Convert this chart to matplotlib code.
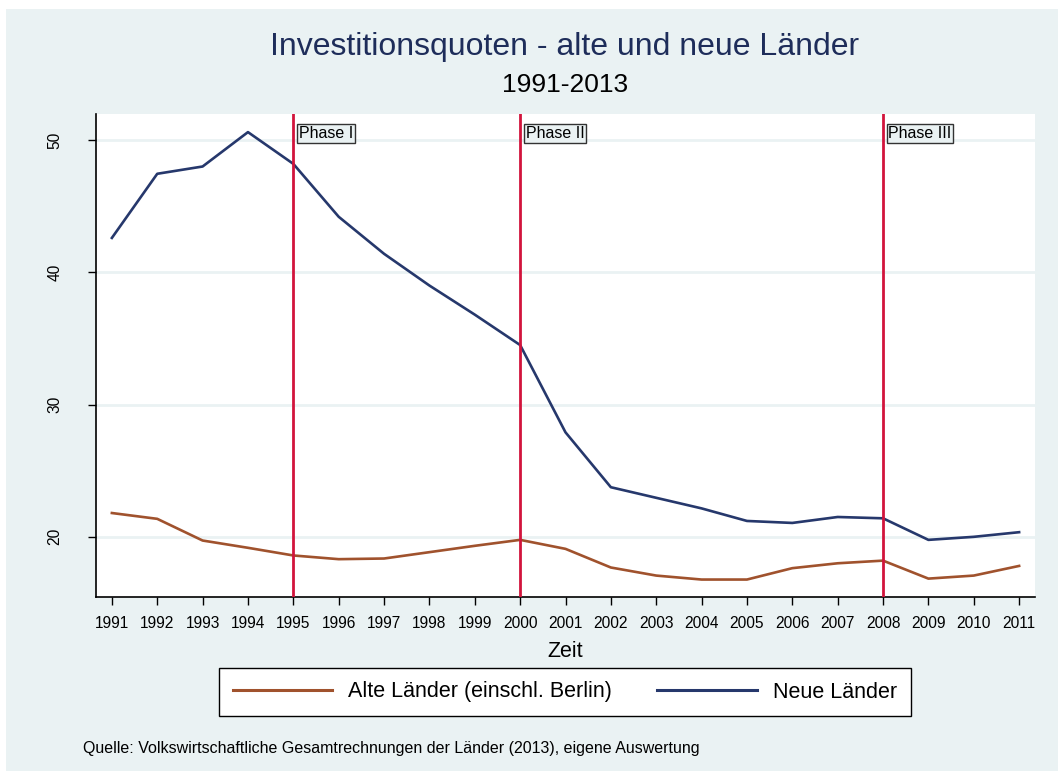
import matplotlib.pyplot as plt
from matplotlib.patches import Rectangle

plt.rcParams['font.family'] = ['Liberation Sans', 'DejaVu Sans']

# data
years = list(range(1991, 2012))
alte = [21.8, 21.36, 19.72, 19.17, 18.59, 18.31, 18.36, 18.84, 19.32, 19.77,
        19.09, 17.68, 17.07, 16.77, 16.77, 17.63, 18.0, 18.2, 16.84, 17.07, 17.8]
neue = [42.6, 47.45, 48.0, 50.6, 48.2, 44.2, 41.4, 39.0, 36.8, 34.5,
        27.9, 23.75, 22.95, 22.15, 21.2, 21.05, 21.5, 21.4, 19.77, 20.0, 20.35]
phase_years = [1995, 2000, 2008]
phase_labels = ['Phase I', 'Phase II', 'Phase III']
y_ticks = [20, 30, 40, 50]

BG = '#eaf2f3'
SIENNA = '#a0522d'
NAVY = '#26386c'
RED = '#d2143c'

fig = plt.figure(figsize=(10.58, 7.71), dpi=100)
fig.patch.set_facecolor('white')
fig.patches.append(Rectangle((6 / 1058, 0), 1, 1 - 9 / 771, transform=fig.transFigure,
                             facecolor=BG, edgecolor='none', zorder=-10))

ax = fig.add_axes([96 / 1058, 1 - 597 / 771, (1035 - 96) / 1058, (597 - 114) / 771])
ax.set_facecolor('white')

ax.plot(years, alte, color=SIENNA, lw=1.9, label='Alte Länder (einschl. Berlin)', zorder=3)
ax.plot(years, neue, color=NAVY, lw=1.9, label='Neue Länder', zorder=3)

for yr, lab in zip(phase_years, phase_labels):
    ax.axvline(yr, color=RED, lw=2.0, zorder=4)
    ax.text(yr + 0.12, 50.5, lab, ha='left', va='center', fontsize=11.5, color='black',
            bbox=dict(boxstyle='square,pad=0.1', facecolor=BG, edgecolor='#333333', lw=1),
            zorder=5)

ax.set_xlim(1990.65, 2011.35)
ax.set_ylim(15.45, 51.97)
ax.set_xticks(years)
ax.set_xticklabels([str(y) for y in years], fontsize=11.2)
ax.set_yticks(y_ticks)
ax.set_yticklabels([str(v) for v in y_ticks], fontsize=11.2, rotation=90, va='center')
ax.tick_params(direction='out', length=6, width=1)
ax.tick_params(axis='x', pad=8)
ax.tick_params(axis='y', pad=18)
ax.grid(axis='y', color=BG, lw=2)
ax.set_axisbelow(True)
for s in ['top', 'right']:
    ax.spines[s].set_visible(False)
for s in ['left', 'bottom']:
    ax.spines[s].set_linewidth(1.2)

ax.set_xlabel('Zeit', fontsize=15.5, labelpad=7)

fig.text(565 / 1058, 1 - 47 / 771, 'Investitionsquoten - alte und neue Länder',
         ha='center', va='center', fontsize=23, color='#1e2d5a')
fig.text(565 / 1058, 1 - 85 / 771, '1991-2013', ha='center', va='center', fontsize=19,
         color='black')

leg = fig.legend(loc='center', bbox_to_anchor=(565 / 1058, 1 - 692 / 771), ncol=2,
                 fontsize=15.5, frameon=True, fancybox=False, framealpha=1,
                 handlelength=4.6, handletextpad=0.75, columnspacing=2.1, borderpad=0.65)
leg.get_frame().set_edgecolor('black')
leg.get_frame().set_linewidth(1)
leg.get_frame().set_facecolor('white')
for h in leg.get_lines():
    h.set_linewidth(2.2)

fig.text(83 / 1058, 1 - 749 / 771,
         'Quelle: Volkswirtschaftliche Gesamtrechnungen der Länder (2013), eigene Auswertung',
         ha='left', va='center', fontsize=11.5, color='black')

fig.savefig('out.png', dpi=100)
